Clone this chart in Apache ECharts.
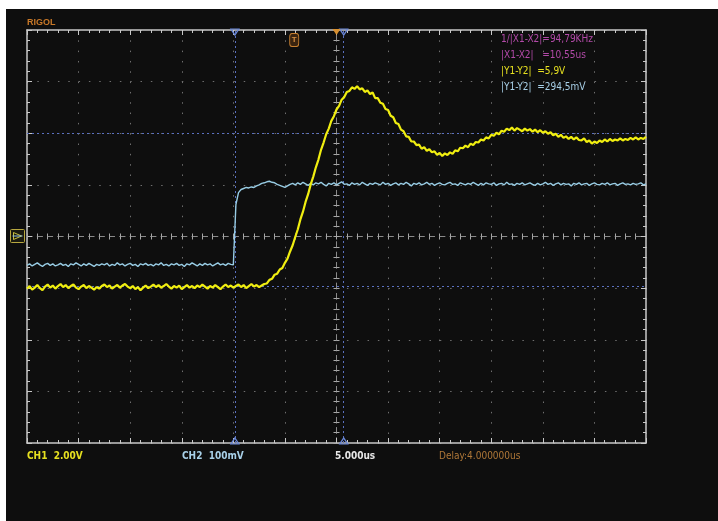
<!DOCTYPE html>
<html><head><meta charset="utf-8">
<script src="https://cdn.jsdelivr.net/npm/echarts@6/dist/echarts.min.js"></script>
<style>
html,body{margin:0;padding:0;background:#fff;width:718px;height:521px;overflow:hidden;}
#bg{position:absolute;left:6px;top:9px;width:712px;height:512px;background:#0e0e0e;}
#c{position:absolute;left:0;top:0;width:718px;height:521px;}
</style>
</head><body><div id="bg"></div><div id="c"></div>
<script>
// time axis in screen divisions (5.000us/div), -6 .. 6 step 0.05
const timeDiv = [];
for (let i = 0; i <= 240; i++) timeDiv.push(Math.round((-6 + i * 0.05) * 100) / 100);

// CH1 (yellow, 2.00V/div) in divisions
const ch1Div = [
-1.01,-0.96,-1.03,-0.99,-0.94,-1.00,-1.04,-0.97,-0.93,-0.99,
-0.95,-1.01,-0.96,-0.92,-0.98,-0.94,-1.00,-0.96,-0.93,-0.99,
-1.02,-0.97,-0.94,-1.00,-0.96,-0.99,-1.03,-0.98,-1.01,-0.96,
-0.93,-0.98,-0.95,-1.01,-0.97,-0.94,-0.99,-0.95,-0.92,-0.97,
-1.00,-0.96,-1.02,-0.98,-1.04,-0.99,-0.95,-1.00,-0.97,-0.93,
-0.98,-0.94,-0.99,-0.96,-0.92,-0.97,-1.01,-0.96,-0.99,-0.95,
-1.02,-0.98,-0.94,-0.99,-0.96,-1.00,-0.95,-0.98,-0.93,-0.97,
-1.01,-0.96,-0.99,-0.94,-0.98,-1.02,-0.97,-0.93,-0.98,-0.95,
-0.99,-0.96,-0.93,-0.98,-0.94,-1.00,-0.96,-0.92,-0.97,-0.94,
-0.98,-0.95,
-0.92,-0.91,-0.84,-0.82,-0.74,-0.72,-0.64,-0.61,-0.51,-0.43,
-0.29,-0.17,-0.01,0.14,0.33,0.48,0.67,0.82,1.01,1.16,
1.34,1.49,1.68,1.82,1.98,2.09,2.24,2.33,2.46,2.53,
2.65,2.70,2.80,2.82,2.89,2.86,2.91,2.85,2.87,2.80,
2.83,2.76,2.79,2.68,2.68,2.59,2.57,2.47,2.45,2.34,
2.31,2.20,2.18,2.07,2.04,1.94,1.93,1.84,1.84,1.77,
1.78,1.70,1.73,1.66,1.69,1.63,1.65,1.58,1.62,1.56,
1.61,1.58,1.63,1.60,1.67,1.65,1.72,1.71,1.76,1.73,
1.80,1.77,1.83,1.82,1.88,1.86,1.92,1.90,1.97,1.95,
2.01,1.98,2.05,2.03,2.09,2.06,2.11,2.05,2.10,2.07,
2.04,2.09,2.05,2.08,2.03,2.07,2.02,2.06,2.01,2.04,
1.99,2.02,1.96,1.99,1.93,1.97,1.91,1.94,1.89,1.93,
1.88,1.92,1.87,1.86,1.90,1.83,1.86,1.80,1.84,1.81,
1.86,1.83,1.88,1.84,1.89,1.85,1.88,1.86,1.90,1.86,
1.89,1.87,1.91,1.88,1.92,1.88,1.91,1.89,1.93
];

// CH2 (blue, 100mV/div) in divisions
const ch2Div = [
-0.56,-0.53,-0.57,-0.54,-0.51,-0.55,-0.58,-0.54,-0.52,-0.56,
-0.53,-0.57,-0.55,-0.52,-0.56,-0.54,-0.58,-0.53,-0.55,-0.51,
-0.54,-0.57,-0.53,-0.56,-0.52,-0.55,-0.58,-0.54,-0.56,-0.53,
-0.55,-0.52,-0.57,-0.54,-0.56,-0.51,-0.55,-0.53,-0.57,-0.54,
-0.52,-0.56,-0.54,-0.58,-0.53,-0.55,-0.52,-0.56,-0.54,-0.57,
-0.53,-0.55,-0.51,-0.56,-0.54,-0.57,-0.53,-0.55,-0.52,-0.56,
-0.54,-0.58,-0.53,-0.55,-0.51,-0.54,-0.57,-0.53,-0.56,-0.52,
-0.55,-0.53,-0.57,-0.54,-0.51,-0.55,-0.53,-0.56,-0.52,-0.54,
-0.55,
0.62,0.85,0.91,0.93,0.95,0.94,0.96,0.95,0.98,1.00,
1.03,1.04,1.06,1.07,1.05,1.04,1.01,0.99,0.97,0.95,
0.98,1.01,1.03,
1.00,1.04,1.01,1.05,1.02,0.99,1.03,1.00,1.04,1.02,
1.05,1.01,0.98,1.03,1.01,1.04,1.00,1.03,1.06,1.01,
1.02,0.99,1.04,1.01,1.03,1.00,1.05,1.02,0.99,1.03,
1.01,1.04,1.02,1.00,1.05,1.01,1.03,0.99,1.02,1.04,
1.00,1.03,1.01,1.05,1.02,0.98,1.03,1.01,1.04,1.00,
1.02,1.05,1.01,1.03,0.99,1.02,1.04,1.01,1.00,1.03,
1.05,1.01,1.02,0.99,1.04,1.02,1.00,1.03,1.01,1.05,
1.02,0.99,1.03,1.00,1.04,1.02,1.01,1.04,0.99,1.02,
1.03,1.00,1.05,1.01,1.02,0.99,1.03,1.01,1.04,1.00,
1.02,1.04,1.01,0.99,1.03,1.00,1.02,1.05,1.01,1.03,
0.99,1.02,1.04,1.00,1.03,1.01,1.02,0.98,1.03,1.01,
1.04,1.00,1.02,1.03,0.99,1.02,1.04,1.01,1.00,1.03,
1.01,1.04,1.00,1.02,1.03,0.99,1.02,1.04,1.01,1.02,
1.00,1.03,1.01,1.02,1.04,1.00,1.02
];

const cursorX = [-1.97, 0.14];
const cursorY = [2.0, -0.96];
const triggerPos = 0;
const triggerMarkT = -0.82;

const measureTexts = [
  {text: '1/|X1-X2|=94,79KHz', color: '#b24aa8'},
  {text: '|X1-X2|   =10,55us', color: '#b24aa8'},
  {text: '|Y1-Y2|  =5,9V', color: '#e6e020'},
  {text: '|Y1-Y2|  =294,5mV', color: '#a8d0e8'}
];
const footerTexts = [
  {text: 'CH1  2.00V', color: '#e6e020', x: 27, bold: true},
  {text: 'CH2  100mV', color: '#a8d0e8', x: 182, bold: true},
  {text: '5.000us', color: '#e8e8e8', x: 335, bold: true},
  {text: 'Delay:4.000000us', color: '#b07838', x: 439, bold: false}
];

const FONT = "'Liberation Sans Narrow','DejaVu Sans Condensed','Liberation Sans',sans-serif";
const G = {left: 27, top: 30, width: 619, height: 413};

function frameAxis(kind, pos, split) {
  const isX = kind === 'x';
  return {
    type: 'value', gridIndex: 0, min: isX ? -6 : -4, max: isX ? 6 : 4, interval: 1, position: pos,
    axisLine: {show: true, onZero: false, lineStyle: {color: '#c8c8c8', width: 1.5}},
    axisTick: {show: true, inside: true, length: 5, lineStyle: {color: '#c8c8c8'}},
    minorTick: {show: true, splitNumber: 5, length: 3, lineStyle: {color: '#c8c8c8'}},
    axisLabel: {show: false},
    splitLine: {show: split, lineStyle: {color: '#6e6e6e', width: 1, type: [1.5, 8.82]}}
  };
}
function centerAxis(kind, gi, inside) {
  const isX = kind === 'x';
  return {
    type: 'value', gridIndex: gi, min: isX ? -6 : -4, max: isX ? 6 : 4, interval: 1,
    axisLine: {show: true, onZero: true, lineStyle: {color: '#8a8a8a', width: 1, type: [5, 5.32]}},
    axisTick: {show: true, inside: inside, length: 3, lineStyle: {color: '#a8a8a8'}},
    minorTick: {show: true, splitNumber: 5, length: 3, lineStyle: {color: '#a8a8a8'}},
    axisLabel: {show: false}, splitLine: {show: false}
  };
}

const chart = echarts.init(document.getElementById('c'), null, {renderer: 'canvas'});

const graphics = [];
graphics.push({type: 'text', left: 27, top: 18, z: 100,
  style: {text: 'RIGOL', fill: '#c87828', font: "bold 9px 'Liberation Sans',sans-serif"}});
measureTexts.forEach((m, i) => graphics.push({type: 'text', left: 501, top: 34 + i * 16.3, z: 100,
  style: {text: m.text, fill: m.color, font: '10px ' + FONT}}));
footerTexts.forEach(f => graphics.push({type: 'text', left: f.x, top: 451, z: 100,
  style: {text: f.text, fill: f.color, font: (f.bold ? 'bold ' : '') + '10px ' + FONT}}));
graphics.push({type: 'group', left: 10, top: 229, z: 100, children: [
  {type: 'rect', shape: {x: 0, y: 0, width: 14, height: 13, r: 1}, style: {fill: '#1a1a10', stroke: '#b8a840', lineWidth: 1}},
  {type: 'polygon', shape: {points: [[3, 3], [11, 6.5], [3, 10]]}, style: {fill: 'none', stroke: '#c8c040', lineWidth: 1}},
  {type: 'line', shape: {x1: 2, y1: 6.5, x2: 12, y2: 6.5}, style: {stroke: '#90c0e0', lineWidth: 1}}
]});

const pts1 = timeDiv.map((t, i) => [t, ch1Div[i]]);
const pts2 = timeDiv.map((t, i) => [t, ch2Div[i]]);
const hollowTri = {color: 'rgba(0,0,0,0)', borderColor: '#6a88d8', borderWidth: 1.2};

chart.setOption({
  backgroundColor: 'transparent',
  animation: false,
  grid: [Object.assign({}, G), Object.assign({}, G), Object.assign({}, G)],
  xAxis: [frameAxis('x', 'bottom', true), frameAxis('x', 'top', false), centerAxis('x', 1, true), centerAxis('x', 2, false)],
  yAxis: [frameAxis('y', 'left', true), frameAxis('y', 'right', false), centerAxis('y', 1, true), centerAxis('y', 2, false)],
  graphic: graphics,
  series: [
    {
      type: 'line', xAxisIndex: 0, yAxisIndex: 0, data: pts2, showSymbol: false, z: 5,
      lineStyle: {color: '#98cce4', width: 1.4},
      markLine: {
        silent: true, symbol: 'none', label: {show: false},
        lineStyle: {color: '#5a70c0', width: 1, type: [2, 3]},
        data: [{xAxis: cursorX[0]}, {xAxis: cursorX[1]}, {yAxis: cursorY[0]}, {yAxis: cursorY[1]}]
      },
      markPoint: {
        silent: true, label: {show: false},
        data: [
          {coord: [cursorX[0], 4], symbol: 'triangle', symbolRotate: 180, symbolSize: [8, 6], symbolOffset: [0, 2], itemStyle: hollowTri},
          {coord: [cursorX[1], 4], symbol: 'triangle', symbolRotate: 180, symbolSize: [8, 6], symbolOffset: [0, 2], itemStyle: hollowTri},
          {coord: [cursorX[0], -4], symbol: 'triangle', symbolSize: [8, 6], symbolOffset: [0, -2], itemStyle: hollowTri},
          {coord: [cursorX[1], -4], symbol: 'triangle', symbolSize: [8, 6], symbolOffset: [0, -2], itemStyle: hollowTri},
          {coord: [triggerPos, 4], symbol: 'triangle', symbolRotate: 180, symbolSize: [8, 6], symbolOffset: [0, 2],
            itemStyle: {color: '#d89030'}},
          {coord: [triggerMarkT, 4], symbol: 'roundRect', symbolSize: [9, 13], symbolOffset: [0, 10],
            itemStyle: {color: '#3a2410', borderColor: '#c88030', borderWidth: 1},
            label: {show: true, formatter: 'T', color: '#d89040', fontSize: 8, fontWeight: 'bold', position: 'inside'}}
        ]
      }
    },
    {
      type: 'line', xAxisIndex: 0, yAxisIndex: 0, data: pts1, showSymbol: false, z: 6,
      lineStyle: {color: '#f0ee10', width: 2.2}
    }
  ]
});
</script>
</body></html>
